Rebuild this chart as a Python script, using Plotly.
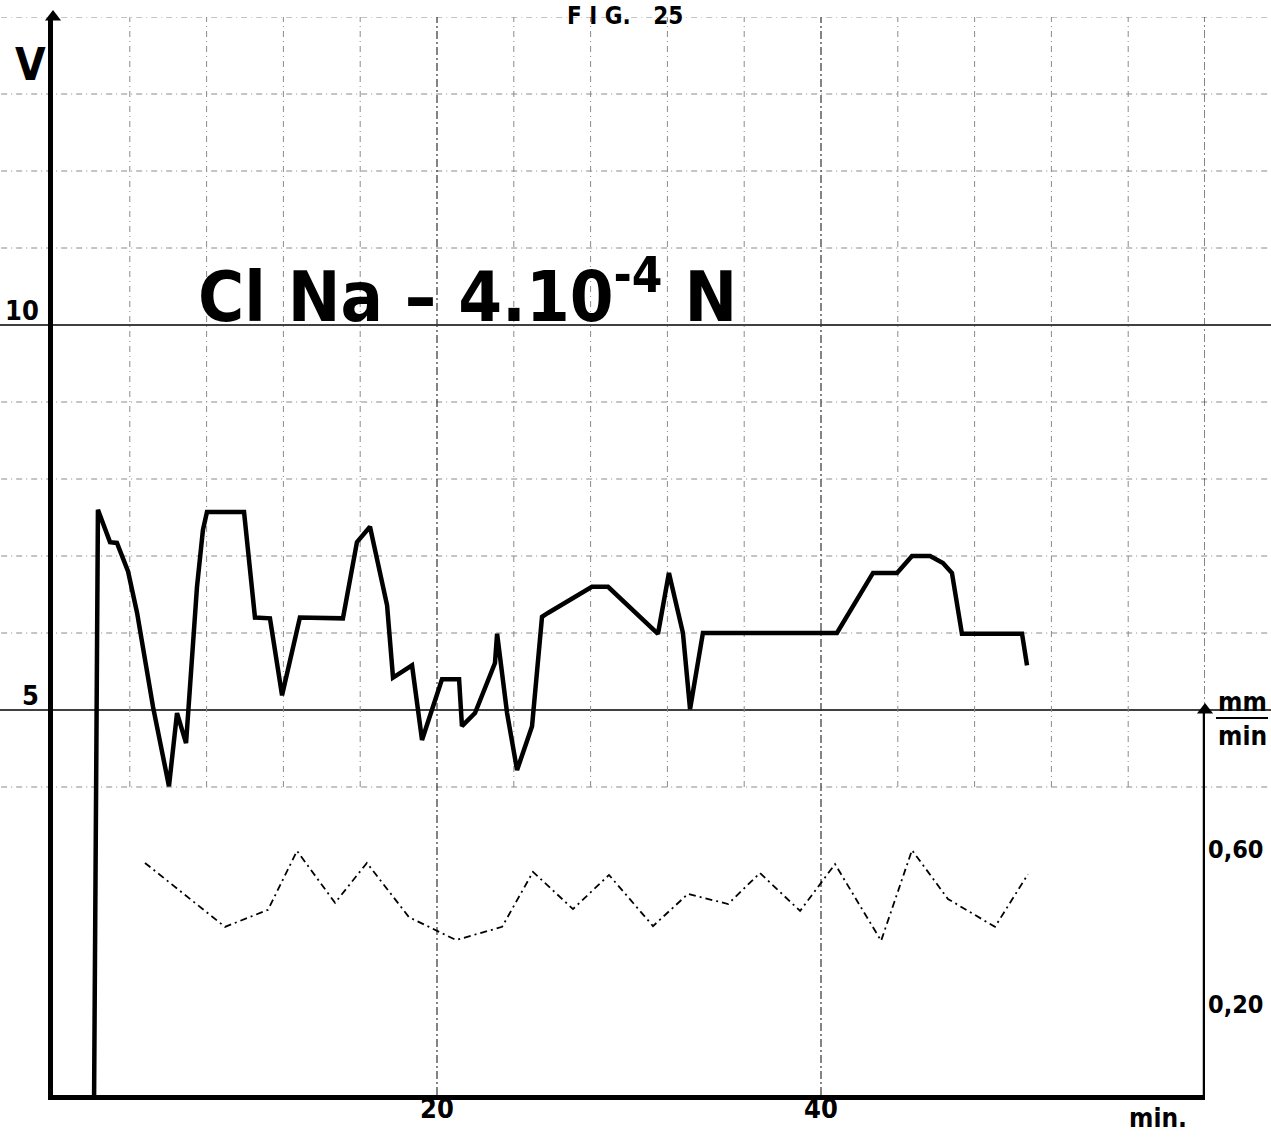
import plotly.graph_objects as go

# ---------------- data ----------------
# solid curve : tension V versus time (min)
minutes_v = [2.14, 2.34, 2.97, 3.33, 3.91, 4.38, 5.21, 6.04, 6.46, 6.93, 7.5, 7.81, 8.02,
             9.95, 10.52, 11.3, 11.93, 12.86, 15.1, 15.83, 16.51, 17.4, 17.71, 18.7, 19.22,
             19.9, 20.26, 21.15, 21.3, 21.98, 23.02, 23.13, 23.65, 24.17, 24.95, 25.47,
             25.78, 28.07, 28.91, 31.51, 32.08, 32.81, 33.18, 33.85, 40.83, 42.71, 43.96,
             44.74, 45.68, 46.35, 46.82, 47.34, 50.47, 50.73]
volts = [0.0, 7.6, 7.18, 7.17, 6.8, 6.26, 5.04, 4.01, 4.96, 4.57, 6.6, 7.34, 7.57,
         7.57, 6.2, 6.19, 5.19, 6.2, 6.19, 7.18, 7.38, 6.36, 5.42, 5.58, 4.61,
         5.13, 5.4, 5.4, 4.79, 4.96, 5.61, 5.99, 4.96, 4.22, 4.79, 6.21,
         6.26, 6.6, 6.6, 5.99, 6.78, 6.0, 5.01, 6.0, 6.0, 6.78, 6.78,
         7.0, 7.0, 6.91, 6.78, 5.99, 5.99, 5.58]

# dashed curve : speed mm/min versus time (min)
minutes_s = [4.79, 8.96, 11.2, 12.71, 14.69, 16.35, 18.54, 19.95, 20.99, 23.39, 25.0, 27.08,
             28.96, 31.25, 33.07, 35.16, 36.82, 38.91, 40.73, 43.13, 44.74, 46.61, 49.06, 50.78]
speed = [0.586, 0.421, 0.465, 0.617, 0.483, 0.586, 0.446, 0.413, 0.387, 0.421, 0.563, 0.467,
         0.555, 0.423, 0.506, 0.48, 0.56, 0.462, 0.583, 0.385, 0.619, 0.493, 0.421, 0.557]

x_tick_vals = [20, 40]
x_tick_text = ["20", "40"]
y_tick_vals = [5, 10]
y_tick_text = ["5", "10"]
y2_tick_vals = [0.20, 0.60]
y2_tick_text = ["0,20", "0,60"]

minor_h_grid = [4, 6, 7, 8, 9, 11, 12, 13, 14]
major_h_grid = [5, 10]
minor_v_grid = [4, 8, 12, 16, 24, 28, 32, 36, 44, 48, 52, 56]
major_v_grid = [20, 40]

# ---------------- layout constants ----------------
W, H = 1271, 1138
ML, MR, MT, MB = 53, 66, 17, 43
X_RANGE = [0, 60]
Y_RANGE = [0, 14]
PX_PER_V = (H - MT - MB) / (Y_RANGE[1] - Y_RANGE[0])
PX_PER_MM = 387.5
Y2_OFFSET = 5 / PX_PER_MM
Y2_RANGE = [Y_RANGE[0] * PX_PER_V / PX_PER_MM - Y2_OFFSET,
            Y_RANGE[1] * PX_PER_V / PX_PER_MM - Y2_OFFSET]
PW = W - ML - MR
PH = H - MT - MB

FONT = "DejaVu Sans Condensed, Liberation Sans Narrow, Arial Narrow, sans-serif"


def P(px, py):
    """pixel position -> paper coordinates (for decorations only)"""
    return (px - ML) / PW, (H - MB - py) / PH


fig = go.Figure()

fig.add_trace(go.Scatter(
    x=minutes_v, y=volts, mode="lines",
    line=dict(color="black", width=4.5), showlegend=False, hoverinfo="skip"))

fig.add_trace(go.Scatter(
    x=minutes_s, y=speed, mode="lines", yaxis="y2",
    line=dict(color="black", width=1.8, dash="7px,4px,2px,4px"), showlegend=False,
    hoverinfo="skip"))

# arrow heads of the axes
fig.add_trace(go.Scatter(
    x=[X_RANGE[0], X_RANGE[1]], y=[Y_RANGE[1], major_h_grid[0]], mode="markers",
    marker=dict(symbol="triangle-up", size=14, color="black"),
    cliponaxis=False, showlegend=False, hoverinfo="skip"))

GRID = dict(color="#8a8a8a", width=1, dash="6px,4px,1px,4px")
shapes = []
for v in minor_h_grid:
    shapes.append(dict(type="line", xref="paper", yref="y", x0=-0.045, x1=1.056, y0=v, y1=v,
                       line=GRID, layer="below"))
for v in major_h_grid:
    shapes.append(dict(type="line", xref="paper", yref="y", x0=-0.046, x1=1.06, y0=v, y1=v,
                       line=dict(color="black", width=1.6), layer="below"))
for m in minor_v_grid:
    shapes.append(dict(type="line", xref="x", yref="y", x0=m, x1=m, y0=4, y1=Y_RANGE[1],
                       line=GRID, layer="below"))
for m in major_v_grid:
    shapes.append(dict(type="line", xref="x", yref="y", x0=m, x1=m, y0=Y_RANGE[0], y1=Y_RANGE[1],
                       line=dict(color="#333", width=1.2, dash="8px,3px,2px,3px"), layer="below"))
shapes.append(dict(type="line", xref="x", yref="y", x0=X_RANGE[1], x1=X_RANGE[1],
                   y0=major_h_grid[0], y1=Y_RANGE[1],
                   line=dict(color="#333", width=1.2, dash="8px,3px,2px,3px"), layer="below"))
# right (speed) axis
shapes.append(dict(type="line", xref="x", yref="y", x0=X_RANGE[1], x1=X_RANGE[1],
                   y0=Y_RANGE[0], y1=major_h_grid[0], line=dict(color="black", width=4.5)))
# fraction bar mm/min
fx0, fy = P(1216, 718)
fx1, _ = P(1268, 718)
shapes.append(dict(type="line", xref="paper", yref="paper", x0=fx0, x1=fx1, y0=fy, y1=fy,
                   line=dict(color="black", width=2)))

annotations = []


def add_text(text, px, py, size, xanchor="center", yanchor="middle"):
    x, y = P(px, py)
    annotations.append(dict(text=text, x=x, y=y, xref="paper", yref="paper",
                            xanchor=xanchor, yanchor=yanchor, showarrow=False,
                            font=dict(family=FONT, size=size, color="black", weight="bold")))


add_text("V", 30, 64, 44)
add_text("Cl Na – 4.10<sup>-4</sup> N", 196, 340, 70, xanchor="left", yanchor="bottom")
add_text("F I G.   25", 625, 0, 24, yanchor="top")
add_text("min.", 1158, 1118, 26)
add_text("mm", 1242, 702, 26)
add_text("min", 1242, 736, 26)

fig.update_layout(
    width=W, height=H,
    margin=dict(l=ML, r=MR, t=MT, b=MB, autoexpand=False),
    paper_bgcolor="white", plot_bgcolor="white",
    shapes=shapes, annotations=annotations,
    xaxis=dict(range=X_RANGE, showgrid=False, zeroline=False, showline=True, automargin=False,
               linecolor="black", linewidth=4.5, tickvals=x_tick_vals, ticktext=x_tick_text,
               ticks="", ticklabelstandoff=-14,
               tickfont=dict(family=FONT, size=27, color="black", weight="bold")),
    yaxis=dict(range=Y_RANGE, showgrid=False, zeroline=False, showline=True, automargin=False,
               linecolor="black", linewidth=4.5, tickvals=y_tick_vals, ticktext=y_tick_text,
               ticks="", ticklabelshift=-14, ticklabelstandoff=4,
               tickfont=dict(family=FONT, size=27, color="black", weight="bold")),
    yaxis2=dict(range=Y2_RANGE, overlaying="y", side="right", anchor="x", automargin=False,
                showgrid=False, zeroline=False, showline=False,
                tickvals=y2_tick_vals, ticktext=y2_tick_text, ticks="", ticklabelshift=-8,
                ticklabelstandoff=2,
                tickfont=dict(family=FONT, size=25, color="black", weight="bold")),
)

fig.write_html("out.html")
